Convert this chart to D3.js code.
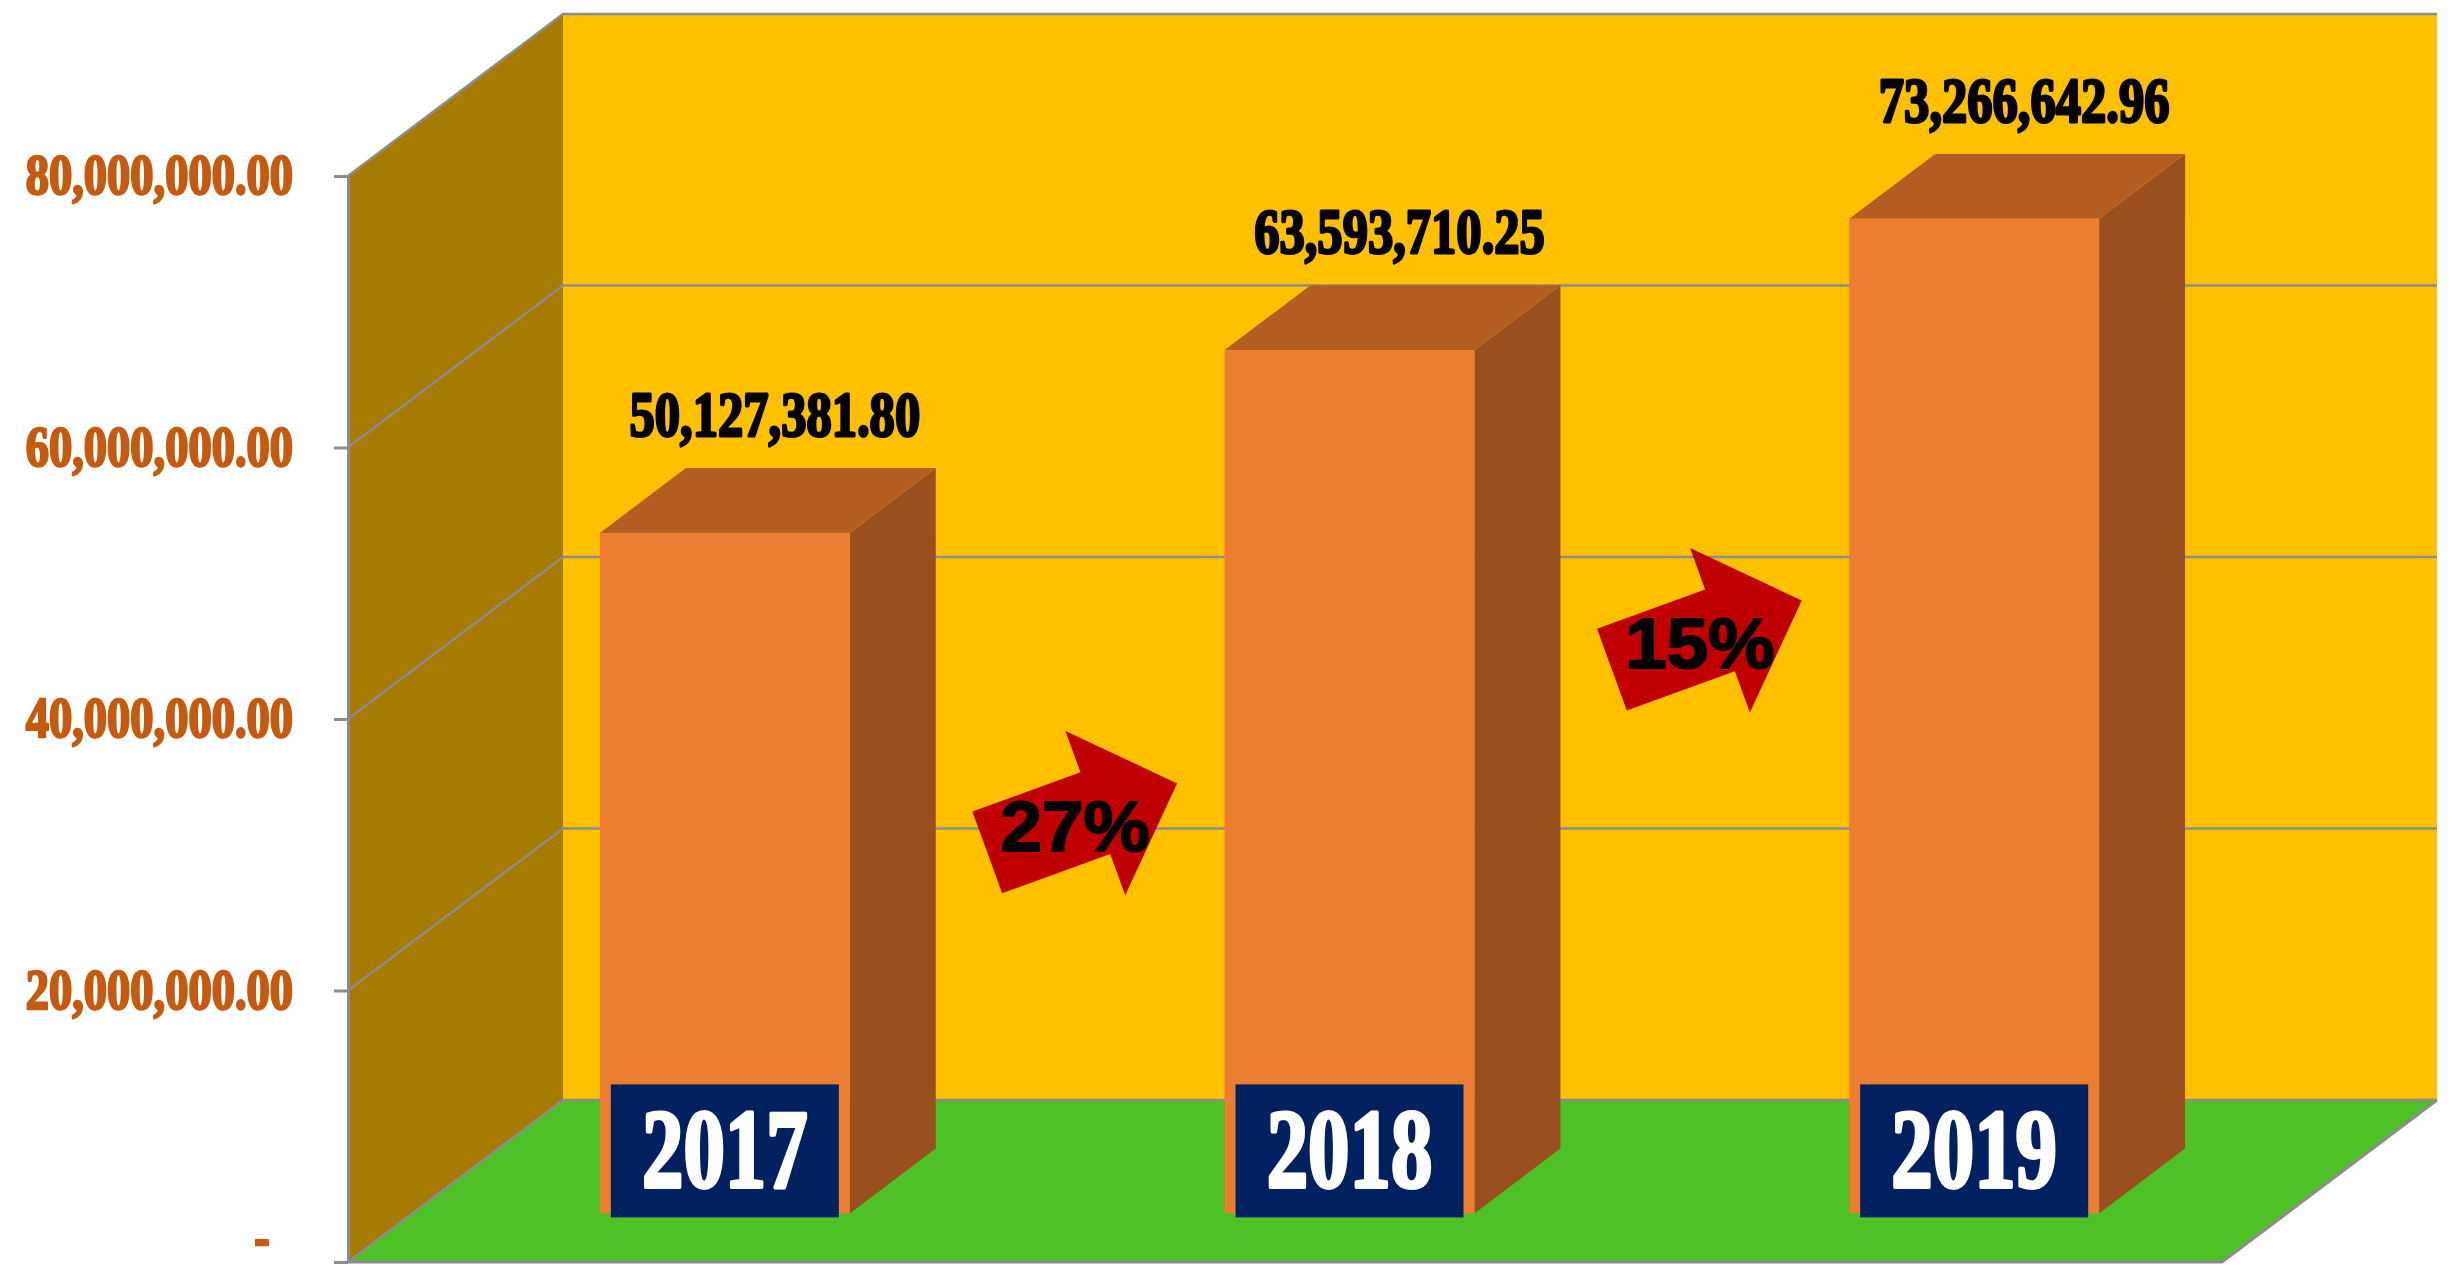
<!DOCTYPE html>
<html>
<head>
<meta charset="utf-8">
<script src="https://cdn.jsdelivr.net/npm/d3@7"></script>
<style>
  html, body { margin: 0; padding: 0; background: #ffffff; }
  svg { display: block; }
</style>
</head>
<body>
<svg id="chart"></svg>
<script>
// [A] Datos ---------------------------------------------------------------
const years = ["2017", "2018", "2019"];
const totals = [50127381.80, 63593710.25, 73266642.96];
const growth = ["27%", "15%"];
const yTicks = [0, 20000000, 40000000, 60000000, 80000000];

// [B] Configuracion -------------------------------------------------------
const width = 2459;
const height = 1269;
const front = { left: 348, right: 2222, bottom: 1262, top: 176 }; // plano frontal
const depth = { dx: 215, dy: -162 };   // profundidad de la caja 3D
const barDepth = [0.3, 0.7];           // las barras ocupan el centro de la profundidad
const grey = "#8c8c8c";

const svg = d3.select("#chart")
    .attr("width", width)
    .attr("height", height);

// [B.1] Escalas
const x = d3.scaleBand()
    .domain(years)
    .range([front.left, front.right])
    .paddingInner(0.6)
    .paddingOuter(0.3);

const y = d3.scaleLinear()
    .domain([0, 80000000])
    .range([front.bottom, front.top]);

const fmt = d3.format(",.2f");

// desplaza un punto hacia el fondo (f = 0 frente, 1 fondo)
const deep = (px, py, f) => [px + depth.dx * f, py + depth.dy * f];
const pts = arr => arr.map(p => p.join(",")).join(" ");

// [C] Paredes y piso ------------------------------------------------------
const yMax = y(80000000);
const yZero = y(0);

svg.append("polygon") // pared izquierda
    .attr("points", pts([[front.left, yMax], deep(front.left, yMax, 1), deep(front.left, yZero, 1), [front.left, yZero]]))
    .attr("fill", "#A67C00");

const backTL = deep(front.left, yMax, 1);
const backBR = deep(front.right, yZero, 1);
svg.append("rect") // pared del fondo
    .attr("x", backTL[0]).attr("y", backTL[1])
    .attr("width", backBR[0] - backTL[0])
    .attr("height", backBR[1] - backTL[1])
    .attr("fill", "#FFC000");

svg.append("polygon") // piso
    .attr("points", pts([[front.left, yZero], deep(front.left, yZero, 1), deep(front.right, yZero, 1), [front.right, yZero]]))
    .attr("fill", "#4EC127");

// [C.1] Lineas de cuadricula
svg.selectAll(".grid")
    .data(yTicks)
    .join("polyline")
    .attr("class", "grid")
    .attr("points", d => pts([[front.left, y(d)], deep(front.left, y(d), 1), deep(front.right, y(d), 1)]))
    .attr("fill", "none")
    .attr("stroke", grey)
    .attr("stroke-width", 2.5);

svg.append("polyline") // bordes del piso
    .attr("points", pts([[front.left, yZero], [front.right, yZero], deep(front.right, yZero, 1)]))
    .attr("fill", "none")
    .attr("stroke", grey)
    .attr("stroke-width", 3);

// [D] Barras 3D -----------------------------------------------------------
const barData = years.map((yr, i) => ({ yr, v: totals[i] }));
const bdx = depth.dx * (barDepth[1] - barDepth[0]);
const bdy = depth.dy * (barDepth[1] - barDepth[0]);

const bars = svg.selectAll(".bar")
    .data(barData)
    .join("g")
    .attr("class", "bar")
    .each(function (d) {
        const [x0, top] = deep(x(d.yr), y(d.v), barDepth[0]);
        const [, bottom] = deep(x(d.yr), yZero, barDepth[0]);
        const x1 = x0 + x.bandwidth();
        d.cx = (x0 + x1) / 2;
        d.top = top;
        d.bottom = bottom;
        const g = d3.select(this);
        g.append("polygon") // cara lateral
            .attr("points", pts([[x1, top], [x1 + bdx, top + bdy], [x1 + bdx, bottom + bdy], [x1, bottom]]))
            .attr("fill", "#9A4F1F");
        g.append("polygon") // cara superior
            .attr("points", pts([[x0, top], [x0 + bdx, top + bdy], [x1 + bdx, top + bdy], [x1, top]]))
            .attr("fill", "#B45E24");
        g.append("rect") // cara frontal
            .attr("x", x0).attr("y", top)
            .attr("width", x1 - x0).attr("height", bottom - top)
            .attr("fill", "#ED7D31");
    });

// [D.1] Etiquetas de anio (cajas azules)
const boxW = 228, boxH = 133;
bars.append("rect")
    .attr("x", d => d.cx - boxW / 2)
    .attr("y", d => d.bottom + 4 - boxH)
    .attr("width", boxW)
    .attr("height", boxH)
    .attr("fill", "#002060");

bars.append("text")
    .attr("transform", d => `translate(${d.cx},${d.bottom - 26}) scale(0.74,1)`)
    .attr("text-anchor", "middle")
    .attr("fill", "#ffffff")
    .attr("stroke", "#ffffff")
    .attr("stroke-width", 4)
    .attr("stroke-linejoin", "round")
    .style("font", "bold 112px 'Liberation Serif', serif")
    .text(d => d.yr);

// [D.2] Valores encima de las barras
bars.append("text")
    .attr("transform", d => `translate(${d.cx + 50},${d.top + bdy - 32}) scale(0.79,1)`)
    .attr("text-anchor", "middle")
    .attr("fill", "#000000")
    .attr("stroke", "#000000")
    .attr("stroke-width", 3)
    .attr("stroke-linejoin", "round")
    .style("font", "bold 64px 'Liberation Serif', serif")
    .text(d => fmt(d.v));

// [E] Flechas de crecimiento ----------------------------------------------
const arrowShape = [[-101, -43.5], [14, -43.5], [14, -87.5], [101, 0], [14, 87.5], [14, 43.5], [-101, 43.5]];

growth.forEach((label, i) => {
    const cx = (barData[i].cx + barData[i + 1].cx) / 2 + 45;
    const cy = barData[i].top + 285;
    svg.append("polygon")
        .attr("points", pts(arrowShape))
        .attr("transform", `translate(${cx},${cy}) rotate(-20)`)
        .attr("fill", "#C00000");
    svg.append("text")
        .attr("transform", `translate(${cx - 7},${cy + 33}) scale(1.05,1)`)
        .attr("text-anchor", "middle")
        .attr("fill", "#000000")
        .attr("stroke", "#000000")
        .attr("stroke-width", 2)
        .attr("stroke-linejoin", "round")
        .style("font", "bold 71px 'Liberation Sans', Arial, sans-serif")
        .text(label);
});

// [F] Eje vertical --------------------------------------------------------
const axis = d3.axisLeft(y)
    .tickValues(yTicks)
    .tickSize(14)
    .tickSizeOuter(0)
    .tickPadding(41)
    .tickFormat(d => d === 0 ? "-\u00a0\u00a0" : fmt(d));

const gAxis = svg.append("g")
    .attr("transform", `translate(${front.left},0)`)
    .call(axis);

gAxis.select(".domain").attr("stroke", grey).attr("stroke-width", 3);
gAxis.selectAll(".tick line").attr("stroke", grey).attr("stroke-width", 3);
gAxis.selectAll(".tick text")
    .attr("x", 0)
    .attr("dy", d => d === 0 ? "-0.12em" : "0.32em") // el guion del cero sube para no cortarse
    .attr("transform", "translate(-55,0) scale(0.83,1)")
    .attr("fill", "#C55A11")
    .attr("stroke", "#C55A11")
    .attr("stroke-width", 2.5)
    .attr("stroke-linejoin", "round")
    .style("font", "bold 56px 'Liberation Serif', serif");
</script>
</body>
</html>
